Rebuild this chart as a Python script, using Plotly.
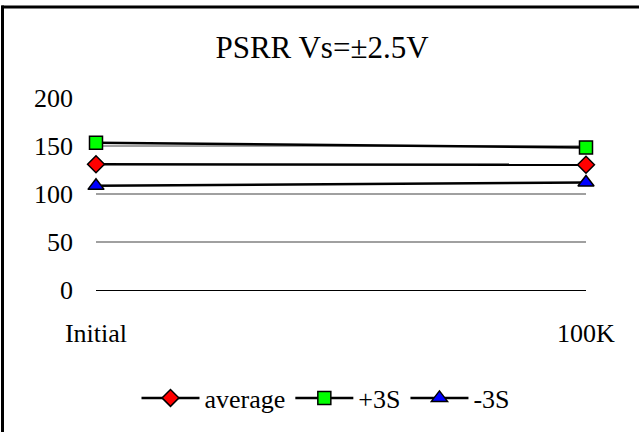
import plotly.graph_objects as go

categories = ["Initial", "100K"]
average = [131.0, 130.5]
plus3s = [153.5, 148.5]
minus3s = [108.5, 112.0]
y_ticks = [0, 50, 100, 150, 200]

W, H = 639, 432
ML, MR, MT, MB = 96, 53, 98, 142
PW, PH = W - ML - MR, H - MT - MB

FONT = "Liberation Serif"

fig = go.Figure()
series = [
    ("average", average, "diamond", "#ff0000", 13),
    ("+3S", plus3s, "square", "#00ff00", 13),
    ("-3S", minus3s, "triangle-up", "#0000ff", 14),
]
for name, vals, sym, col, sz in series:
    fig.add_trace(go.Scatter(
        x=categories, y=vals, name=name, mode="lines+markers", cliponaxis=False,
        line=dict(color="black", width=2.5),
        marker=dict(symbol=sym, color=col, size=sz, line=dict(color="black", width=1.5)),
    ))

def px_x(p):
    return (p - ML) / PW

def px_y(p):
    return (H - MB - p) / PH

shapes = [
    dict(type="line", xref="paper", yref="paper", x0=px_x(1.5), x1=px_x(W + 2),
         y0=px_y(7), y1=px_y(7), line=dict(color="black", width=3)),
    dict(type="line", xref="paper", yref="paper", x0=px_x(2.5), x1=px_x(2.5),
         y0=px_y(5.5), y1=px_y(H + 2), line=dict(color="black", width=3)),
]

fig.update_layout(
    width=W, height=H,
    margin=dict(l=ML, r=MR, t=MT, b=MB),
    paper_bgcolor="white", plot_bgcolor="white",
    font=dict(family=FONT, size=25, color="black"),
    title=dict(text="PSRR Vs=±2.5V", x=322 / W, xanchor="center",
               y=1 - 47 / H, yanchor="middle", yref="container",
               font=dict(family=FONT, size=31, color="black")),
    xaxis=dict(type="category", range=[0, 1], showgrid=False, showline=False,
               zeroline=False, ticks="", ticklabelstandoff=25,
               tickfont=dict(family=FONT, size=26)),
    yaxis=dict(range=[0, 200], tickvals=y_ticks, showgrid=True, gridcolor="#a0a0a0",
               gridwidth=1.5, zeroline=True, zerolinecolor="black", zerolinewidth=1.2,
               showline=False, ticks="", ticklabelstandoff=22,
               tickfont=dict(family=FONT, size=26)),
    showlegend=True,
    legend=dict(orientation="h", x=326 / W, xanchor="center", xref="container",
                y=1 - 398 / H, yanchor="middle", yref="container",
                font=dict(family=FONT, size=26), itemwidth=58,
                bgcolor="rgba(0,0,0,0)"),
    shapes=shapes,
)

fig.write_html("out.html", config={"displayModeBar": False},
               post_script="document.body.style.margin='0';document.body.style.overflow='hidden';")
